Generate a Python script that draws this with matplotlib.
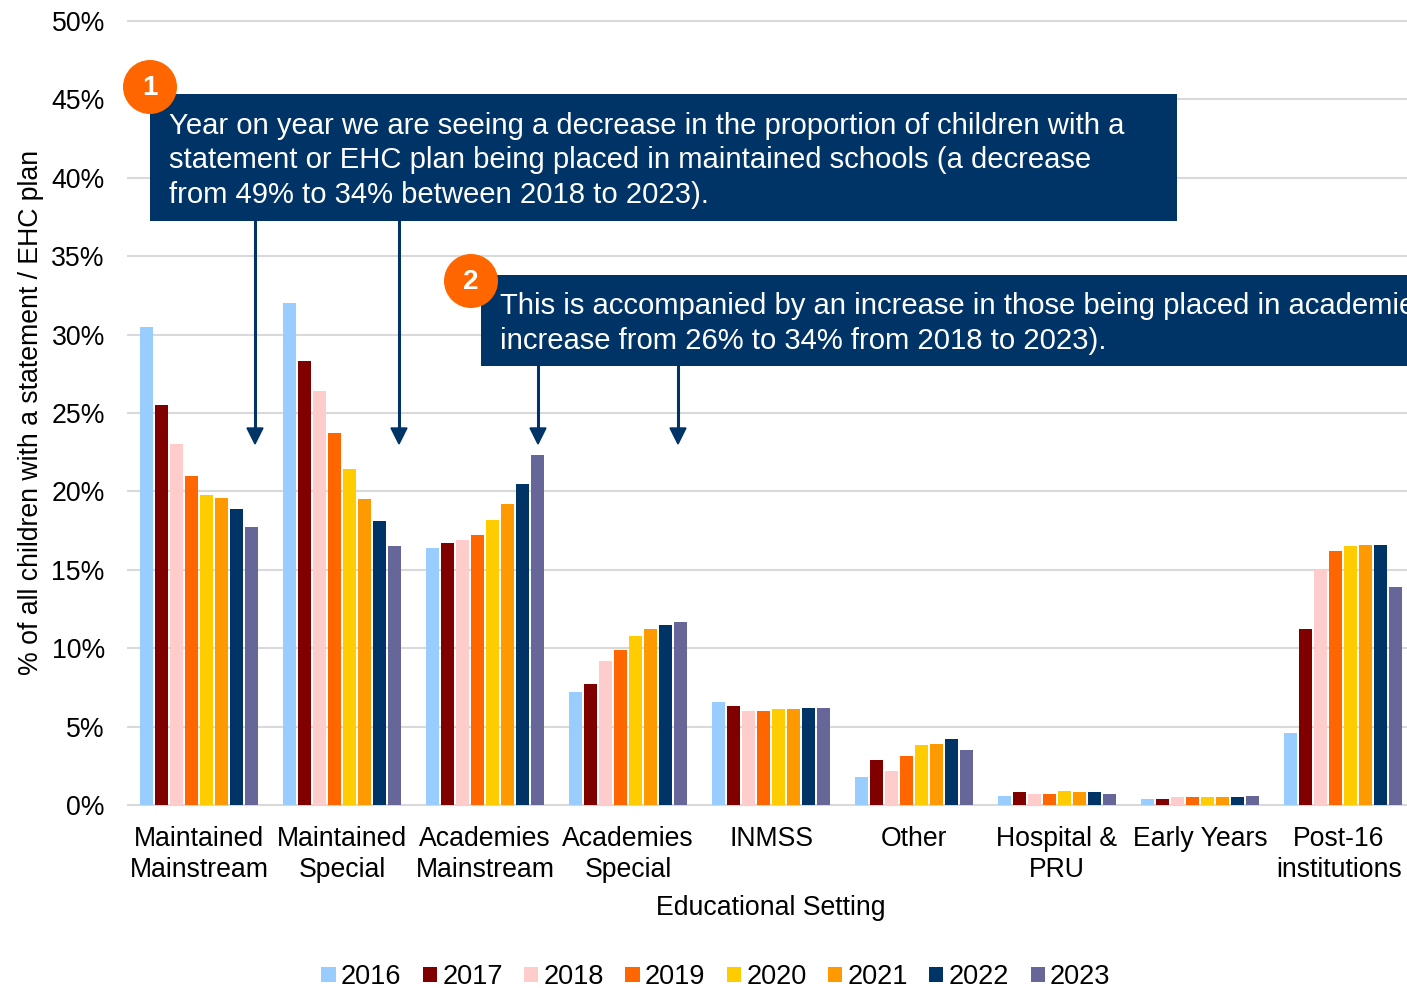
import matplotlib
matplotlib.use('Agg')
import matplotlib.pyplot as plt
import matplotlib.patches as patches
from matplotlib.transforms import ScaledTranslation
import numpy as np

plt.rcParams['font.family'] = ['Liberation Sans', 'DejaVu Sans']

categories = ['Maintained\nMainstream', 'Maintained\nSpecial', 'Academies\nMainstream', 'Academies\nSpecial',
              'INMSS', 'Other', 'Hospital &\nPRU', 'Early Years', 'Post-16\ninstitutions']
years = ['2016', '2017', '2018', '2019', '2020', '2021', '2022', '2023']
v2016 = [30.5, 32.0, 16.4, 7.2, 6.6, 1.8, 0.6, 0.4, 4.6]
v2017 = [25.5, 28.3, 16.7, 7.7, 6.3, 2.9, 0.8, 0.4, 11.2]
v2018 = [23.0, 26.4, 16.9, 9.2, 6.0, 2.2, 0.7, 0.5, 15.0]
v2019 = [21.0, 23.7, 17.2, 9.9, 6.0, 3.1, 0.7, 0.5, 16.2]
v2020 = [19.8, 21.4, 18.2, 10.8, 6.1, 3.8, 0.9, 0.5, 16.5]
v2021 = [19.6, 19.5, 19.2, 11.2, 6.1, 3.9, 0.8, 0.5, 16.6]
v2022 = [18.9, 18.1, 20.5, 11.5, 6.2, 4.2, 0.8, 0.5, 16.6]
v2023 = [17.7, 16.5, 22.3, 11.7, 6.2, 3.5, 0.7, 0.6, 13.9]
series = [v2016, v2017, v2018, v2019, v2020, v2021, v2022, v2023]
colors = ['#99CCFF', '#800000', '#FFCCCC', '#FF6600', '#FFCC00', '#FF9900', '#003366', '#666699']

W, H = 1407, 988
navy = '#003366'
orange = '#FF6600'

fig = plt.figure(figsize=(W / 100, H / 100), dpi=100)
# the plot runs off the right edge of the picture, as in the original
ax = fig.add_axes([127.5 / W, 1 - 805 / H, 1287 / W, 784 / H])

slot = 15 / 143
x = np.arange(len(categories))
for i, (vals, c) in enumerate(zip(series, colors)):
    ax.bar(x + (i - 3.5) * slot, vals, width=slot * 0.82, color=c, label=years[i], zorder=3)

ax.set_xlim(-0.5, 8.5)
ax.set_ylim(0, 50)
ax.set_yticks(np.arange(0, 51, 5))
ax.set_yticklabels([f'{t}%' for t in range(0, 51, 5)], fontsize=19.2, color='black')
ax.set_xticks(x)
ax.set_xticklabels(categories, fontsize=19.2, linespacing=1.27)
ax.tick_params(axis='both', length=0)
ax.tick_params(axis='y', pad=16.3)
ax.tick_params(axis='x', pad=15)
ax.grid(axis='y', color='#D9D9D9', lw=1.5, zorder=0, clip_on=False, solid_capstyle='butt')
ax.set_axisbelow(True)
for s in ax.spines.values():
    s.set_visible(False)

# last label is pushed left so it stays inside the picture
last = ax.get_xticklabels()[-1]
last.set_transform(last.get_transform() + ScaledTranslation(-4 / 100, 0, fig.dpi_scale_trans))

fig.text(31 / W, 1 - 412 / H, '% of all children with a statement / EHC plan', rotation=90,
         fontsize=19.2, ha='center', va='center')
fig.text(771 / W, 1 - 908 / H, 'Educational Setting', fontsize=19.2, ha='center', va='center')

fig.legend(*ax.get_legend_handles_labels(), loc='center', bbox_to_anchor=(716 / W, 1 - 977 / H), ncol=8,
           frameon=False, fontsize=19.5, handlelength=0.52, handleheight=0.52, handletextpad=0.2,
           columnspacing=0.79, borderpad=0)

# callouts drawn in pixel coordinates on top of the chart
ov = fig.add_axes([0, 0, 1, 1], facecolor='none')
ov.set_xlim(0, W)
ov.set_ylim(H, 0)
ov.axis('off')

for ax_x, top in [(255, 215), (399, 215), (538, 360), (678, 360)]:
    ov.plot([ax_x, ax_x], [top, 432], color=navy, lw=2.2, zorder=2)
    ov.add_patch(patches.Polygon([(ax_x - 8, 428), (ax_x + 8, 428), (ax_x, 444)], color=navy, zorder=2))

ov.add_patch(patches.Rectangle((150, 94), 1027, 127, color=navy, lw=0, zorder=3))
ov.add_patch(patches.Rectangle((481, 275), 940, 91, color=navy, lw=0, zorder=3))

ov.text(169, 160.5, 'Year on year we are seeing a decrease in the proportion of children with a\n'
        'statement or EHC plan being placed in maintained schools (a decrease\n'
        'from 49% to 34% between 2018 to 2023).', color='white', fontsize=21.1, va='center', ha='left',
        linespacing=1.31, zorder=4)
ov.text(500, 323.5, 'This is accompanied by an increase in those being placed in academies (an\n'
        'increase from 26% to 34% from 2018 to 2023).', color='white', fontsize=21.1, va='center', ha='left',
        linespacing=1.29, zorder=4)

for cx, cy, n in [(150, 87, '1'), (471, 281, '2')]:
    ov.add_patch(patches.Circle((cx, cy), 27, color=orange, lw=0, zorder=5))
    ov.text(cx, cy + 1, n, color='white', fontsize=20, fontweight='bold', ha='center', va='center', zorder=6)

fig.savefig('out.png', dpi=100)
